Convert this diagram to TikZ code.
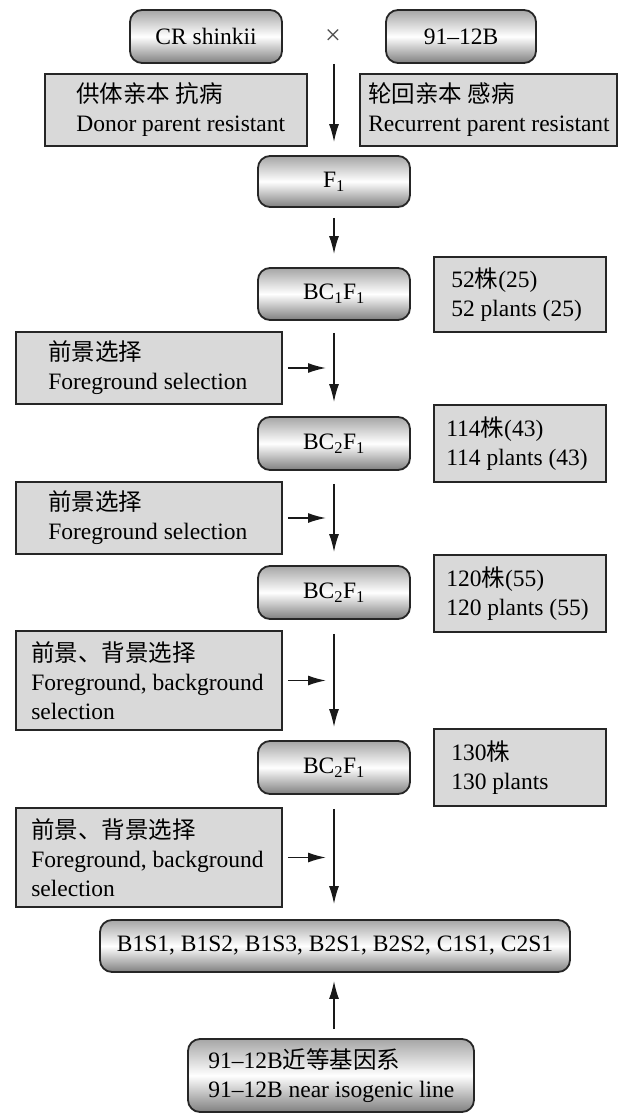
\documentclass[tikz,border=0pt]{standalone}
\usepackage{fontspec}
\setmainfont{Liberation Serif}
\newfontfamily\cjk{Noto Sans CJK SC}
\usetikzlibrary{arrows.meta}
\begin{document}
\begin{tikzpicture}[x=1pt,y=-1pt,
  every node/.style={font=\fontsize{23.5}{29}\selectfont, text=black},
  rbox/.style={draw=black!85, line width=1.8pt, rounded corners=12pt,
    top color=black!35, bottom color=black!50, middle color=white, inner sep=0pt},
  gbox/.style={draw=black!85, line width=1.8pt, fill=black!15, inner sep=0pt},
  txt/.style={inner sep=0pt, anchor=west, align=left},
  arr/.style={line width=1.6pt, draw=black!90, -{Latex[length=18pt,width=10pt]}},
]
\useasboundingbox (0,0) rectangle (619,1113);

% parents
\node[rbox, minimum width=152, minimum height=53] (cr) at (206,36.5) {CR shinkii};
\node[rbox, minimum width=150, minimum height=53] (p2) at (461,36.5) {91–12B};
\node[inner sep=0pt, font=\fontsize{28}{28}\selectfont, text=black!70] (times) at (333,37) {×};
\coordinate (cross) at (334,37);

\node[gbox, minimum width=262, minimum height=72] (don) at (176,110) {};
\node[txt] (dont) at ([xshift=32]don.west) {{\cjk 供体亲本 抗病}\\Donor parent resistant};
\node[gbox, minimum width=257, minimum height=72] (rec) at (488.5,110) {};
\node[txt] (rect) at ([xshift=9]rec.west) {{\cjk 轮回亲本 感病}\\Recurrent parent resistant};

% generations
\node[rbox, minimum width=152, minimum height=51] (f1) at (334,181.5) {F\textsubscript{1}};
\node[rbox, minimum width=152, minimum height=52] (bc1) at (334,294) {BC\textsubscript{1}F\textsubscript{1}};
\node[rbox, minimum width=152, minimum height=53] (bc2a) at (334,443.5) {BC\textsubscript{2}F\textsubscript{1}};
\node[rbox, minimum width=152, minimum height=53] (bc2b) at (334,592.5) {BC\textsubscript{2}F\textsubscript{1}};
\node[rbox, minimum width=152, minimum height=53] (bc2c) at (334,767.5) {BC\textsubscript{2}F\textsubscript{1}};
\node[rbox, minimum width=470, minimum height=52] (res) at (335,946) {B1S1, B1S2, B1S3, B2S1, B2S2, C1S1, C2S1};
\node[rbox, minimum width=286, minimum height=73] (nil) at (331,1075.5) {};
\node[txt] (nilt) at ([xshift=21]nil.west) {91–12B{\cjk 近等基因系}\\91–12B near isogenic line};

% counts
\node[gbox, minimum width=172, minimum height=75] (n52) at (520,294.5) {};
\node[txt] (n52t) at ([xshift=18]n52.west) {52{\cjk 株}(25)\\52 plants (25)};
\node[gbox, minimum width=172, minimum height=77] (n114) at (520,443.5) {};
\node[txt] (n114t) at ([xshift=13]n114.west) {114{\cjk 株}(43)\\114 plants (43)};
\node[gbox, minimum width=172, minimum height=77] (n120) at (520,593.5) {};
\node[txt] (n120t) at ([xshift=13]n120.west) {120{\cjk 株}(55)\\120 plants (55)};
\node[gbox, minimum width=172, minimum height=77] (n130) at (520,767.5) {};
\node[txt] (n130t) at ([xshift=18]n130.west) {130{\cjk 株}\\130 plants};

% selections
\node[gbox, minimum width=266, minimum height=72] (fg1) at (149,368) {};
\node[txt] (fg1t) at ([xshift=33]fg1.west) {{\cjk 前景选择}\\Foreground selection};
\node[gbox, minimum width=266, minimum height=72] (fg2) at (149,518) {};
\node[txt] (fg2t) at ([xshift=33]fg2.west) {{\cjk 前景选择}\\Foreground selection};
\node[gbox, minimum width=266, minimum height=99] (fg3) at (149,680.5) {};
\node[txt] (fg3t) at ([xshift=16]fg3.west) {{\cjk 前景、背景选择}\\Foreground, background\\selection};
\node[gbox, minimum width=266, minimum height=99] (fg4) at (149,857.5) {};
\node[txt] (fg4t) at ([xshift=16]fg4.west) {{\cjk 前景、背景选择}\\Foreground, background\\selection};

% main arrows
\draw[arr, shorten <=27pt, shorten >=13pt] (cross) -- (f1.north);
\draw[arr, shorten <=10pt, shorten >=13pt] (f1.south) -- (bc1.north);
\draw[arr, shorten <=12pt, shorten >=14pt] (bc1.south) -- (bc2a.north);
\draw[arr, shorten <=13pt, shorten >=13pt] (bc2a.south) -- (bc2b.north);
\draw[arr, shorten <=14pt, shorten >=13pt] (bc2b.south) -- (bc2c.north);
\draw[arr, shorten <=14pt, shorten >=15pt] (bc2c.south) -- (res.north -| bc2c.south);
\draw[arr, shorten <=9pt, shorten >=8pt] (nil.north -| bc2c.south) -- (res.south -| bc2c.south);

% selection arrows
\draw[arr, shorten <=5pt, shorten >=8pt] (fg1.east) -- (fg1.east -| bc1.center);
\draw[arr, shorten <=5pt, shorten >=8pt] (fg2.east) -- (fg2.east -| bc1.center);
\draw[arr, shorten <=5pt, shorten >=8pt] (fg3.east) -- (fg3.east -| bc1.center);
\draw[arr, shorten <=5pt, shorten >=8pt] (fg4.east) -- (fg4.east -| bc1.center);
\end{tikzpicture}
\end{document}
